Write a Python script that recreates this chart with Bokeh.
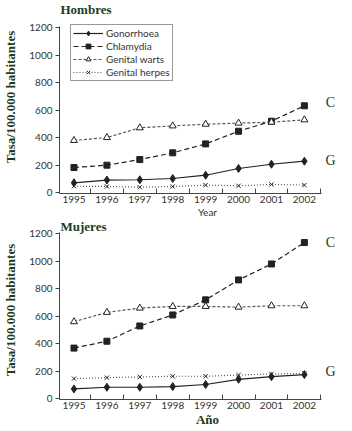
from bokeh.plotting import figure
from bokeh.models import Range1d, FixedTicker, Label
from bokeh.layouts import column
from bokeh.embed import file_html
from bokeh.resources import INLINE

# ---------------- data ----------------
years = [1995, 1996, 1997, 1998, 1999, 2000, 2001, 2002]
series_names = ["Gonorrhoea", "Chlamydia", "Genital warts", "Genital herpes"]

hombres_gonorrhoea = [73, 93, 95, 104, 128, 177, 208, 230]
hombres_chlamydia = [184, 201, 242, 291, 356, 448, 521, 633]
hombres_warts = [381, 402, 473, 487, 499, 507, 514, 531]
hombres_herpes = [48, 46, 41, 46, 56, 51, 61, 56]

mujeres_gonorrhoea = [72, 84, 84, 89, 104, 142, 161, 176]
mujeres_chlamydia = [369, 419, 530, 610, 720, 865, 981, 1137]
mujeres_warts = [561, 629, 660, 672, 672, 667, 677, 677]
mujeres_herpes = [147, 154, 159, 164, 164, 173, 181, 185]

y_ticks = [0, 200, 400, 600, 800, 1000, 1200]
y_title = "Tasa/100.000 habitantes"

GREEN = "#1d3b1d"
INK = "#222222"
TICKC = "#333333"
AXC = "#444444"

X0, X1 = 1994.56, 2002.52
Y0, Y1 = -5, 1210
XPX = (X1 - X0) / 262.0   # data units per pixel
YPX = (Y1 - Y0) / 167.0
FRAME_W = 296


def make_fig(frame_h, top_px, vals, xlabel, xlabel_font, xlabel_size,
             xlabel_style, xlabel_color, title, title_px, c_px, g_px, legend):
    # top_px: pixels between frame top and the value Y1
    y_end = Y1 + top_px * YPX
    x_end = X0 + FRAME_W * XPX
    p = figure(frame_width=FRAME_W, frame_height=frame_h, output_backend="svg",
               toolbar_location=None,
               x_range=Range1d(X0, x_end), y_range=Range1d(Y0, y_end),
               min_border_left=56, min_border_right=0,
               min_border_top=0, min_border_bottom=0)
    p.outline_line_color = None
    p.xgrid.grid_line_color = None
    p.ygrid.grid_line_color = None
    p.background_fill_color = "white"
    p.border_fill_color = "white"

    styles = [
        dict(dash="solid", marker="diamond", size=8, fill=INK, lc=INK),
        dict(dash="5 3", marker="square", size=6, fill=INK, lc=INK),
        dict(dash="3 2", marker="triangle", size=7, fill="white", lc="#555555"),
        dict(dash="1 2", marker="x", size=6, fill=INK, lc="#555555"),
    ]
    for name, ys, st in zip(series_names, vals, styles):
        kw = dict(legend_label=name) if legend else {}
        p.line(years, ys, line_color=st["lc"], line_width=1.2, line_dash=st["dash"], **kw)
        p.scatter(years, ys, marker=st["marker"], size=st["size"], fill_color=st["fill"],
                  line_color=INK, line_width=1, **kw)

    xa = p.xaxis[0]
    xa.bounds = (X0, X1)
    xa.ticker = FixedTicker(ticks=years, minor_ticks=[y + 0.5 for y in years])
    xa.major_tick_line_color = None
    xa.major_tick_in = 0
    xa.major_tick_out = 0
    xa.minor_tick_in = 5
    xa.minor_tick_out = 0
    xa.minor_tick_line_color = AXC
    xa.axis_line_color = AXC
    xa.major_label_text_font = "Lato"
    xa.major_label_text_font_size = "10px"
    xa.major_label_text_color = TICKC
    xa.major_label_standoff = 2
    xa.axis_label = xlabel
    xa.axis_label_text_font = xlabel_font
    xa.axis_label_text_font_size = xlabel_size
    xa.axis_label_text_font_style = xlabel_style
    xa.axis_label_text_color = xlabel_color
    xa.axis_label_standoff = 0

    ya = p.yaxis[0]
    ya.bounds = (Y0, Y1)
    ya.ticker = FixedTicker(ticks=y_ticks)
    ya.major_tick_in = 0
    ya.major_tick_out = 4
    ya.major_tick_line_color = AXC
    ya.minor_tick_line_color = None
    ya.axis_line_color = AXC
    ya.major_label_text_font = "Lato"
    ya.major_label_text_font_size = "10px"
    ya.major_label_text_color = TICKC
    ya.major_label_standoff = 3
    ya.axis_label = y_title
    ya.axis_label_text_font = "Liberation Serif"
    ya.axis_label_text_font_size = "13px"
    ya.axis_label_text_font_style = "bold"
    ya.axis_label_text_color = GREEN
    ya.axis_label_standoff = 8

    def ypos(px):  # px measured down from where Y1 sits
        return Y1 - px * YPX

    p.add_layout(Label(x=X0 + 1 * XPX, y=ypos(title_px), text=title,
                       text_font="Liberation Serif", text_font_size="13px",
                       text_font_style="bold", text_color=GREEN,
                       text_align="left", text_baseline="middle"))
    cx = X0 + 271 * XPX
    for t, py in (("C", c_px), ("G", g_px)):
        p.add_layout(Label(x=cx, y=ypos(py), text=t,
                           text_font="Liberation Serif", text_font_size="14px",
                           text_color=GREEN, text_align="center", text_baseline="middle"))

    if legend:
        lg = p.legend[0]
        lg.location = (11, frame_h - top_px - 55)
        lg.margin = 0
        lg.padding = 2
        lg.spacing = 1
        lg.label_height = 12
        lg.glyph_height = 12
        lg.glyph_width = 30
        lg.label_standoff = 3
        lg.label_text_font = "Lato"
        lg.label_text_font_size = "10px"
        lg.label_text_color = TICKC
        lg.border_line_color = "#333333"
        lg.border_line_width = 1
        lg.background_fill_color = "white"
        lg.background_fill_alpha = 1
    return p


top = make_fig(193, 26,
               [hombres_gonorrhoea, hombres_chlamydia, hombres_warts, hombres_herpes],
               "Year", "Lato", "10px", "normal", TICKC,
               "Hombres", -17, 76, 134, True)
bottom = make_fig(179, 12,
                  [mujeres_gonorrhoea, mujeres_chlamydia, mujeres_warts, mujeres_herpes],
                  "Año", "Liberation Serif", "13px", "bold", GREEN,
                  "Mujeres", -6, 10, 139, False)

layout = column(top, bottom, spacing=0)
open("out.html", "w").write(file_html(layout, INLINE))
